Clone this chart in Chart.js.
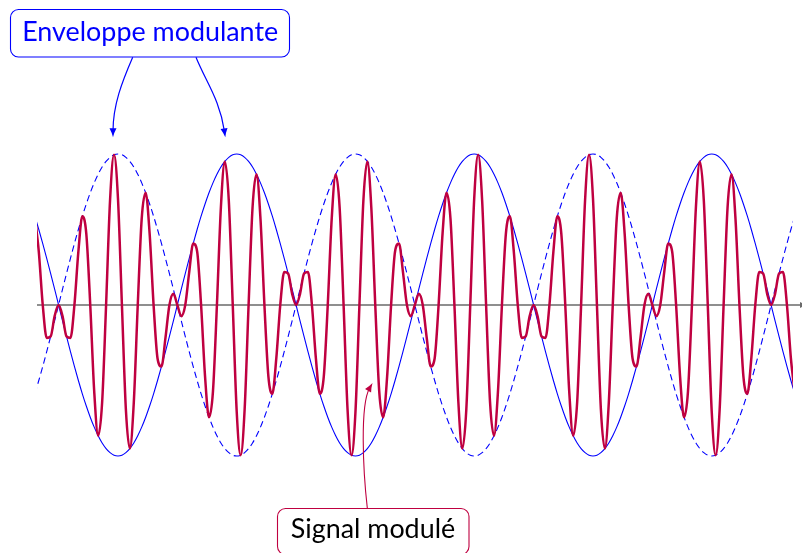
<!DOCTYPE html>
<html>
<head>
<meta charset="utf-8">
<script src="https://cdn.jsdelivr.net/npm/chart.js@4.4.1/dist/chart.umd.min.js"></script>
<style>
html,body{margin:0;padding:0;background:#fff;}
canvas{display:block;}
</style>
</head>
<body>
<canvas id="c" width="802" height="553"></canvas>
<script>
// Samples at a regular step along the time axis
// (index 0 .. 192; the visible domain runs from index 0.5475 to 191.53).
const xRange = [0.5475, 191.53];
const yRange = [-1.2, 1.2];

// Modulated signal (carrier x envelope)
const signalValues = [
 0.588,0.354,0,-0.218,-0.208,-0.074,0,-0.074,-0.208,-0.218,0,0.354,0.588,0.473,0,-0.572,-0.866,-0.646,0,0.692,0.995,0.707,0,-0.692,-0.951,-0.646,0,0.572,0.743,0.473,0,-0.354,-0.407,-0.218,0,0.074,0,-0.074,0,0.218,0.407,0.354,0,-0.473,-0.743,-0.572,0,0.646,0.951,0.692,0,-0.707,-0.995,-0.692,0,0.646,0.866,0.572,0,-0.473,
 -0.588,-0.354,0,0.218,0.208,0.074,0,0.074,0.208,0.218,0,-0.354,-0.588,-0.473,0,0.572,0.866,0.646,0,-0.692,-0.995,-0.707,0,0.692,0.951,0.646,0,-0.572,-0.743,-0.473,0,0.354,0.407,0.218,0,-0.074,0,0.074,0,-0.218,-0.407,-0.354,0,0.473,0.743,0.572,0,-0.646,-0.951,-0.692,0,0.707,0.995,0.692,0,-0.646,-0.866,-0.572,0,0.473,
 0.588,0.354,0,-0.218,-0.208,-0.074,0,-0.074,-0.208,-0.218,0,0.354,0.588,0.473,0,-0.572,-0.866,-0.646,0,0.692,0.995,0.707,0,-0.692,-0.951,-0.646,0,0.572,0.743,0.473,0,-0.354,-0.407,-0.218,0,0.074,0,-0.074,0,0.218,0.407,0.354,0,-0.473,-0.743,-0.572,0,0.646,0.951,0.692,0,-0.707,-0.995,-0.692,0,0.646,0.866,0.572,0,-0.473,
 -0.588,-0.354,0,0.218,0.208,0.074,0,0.074,0.208,0.218,0,-0.354,-0.588
];

// Upper (solid) modulating envelope
const envelopeUpper = [
 0.588,0.5,0.407,0.309,0.208,0.105,0,-0.105,-0.208,-0.309,-0.407,-0.5,-0.588,-0.669,-0.743,-0.809,-0.866,-0.914,-0.951,-0.978,-0.995,-1,-0.995,-0.978,-0.951,-0.914,-0.866,-0.809,-0.743,-0.669,-0.588,-0.5,-0.407,-0.309,-0.208,-0.105,0,0.105,0.208,0.309,0.407,0.5,0.588,0.669,0.743,0.809,0.866,0.914,0.951,0.978,0.995,1,0.995,0.978,0.951,0.914,0.866,0.809,0.743,0.669,
 0.588,0.5,0.407,0.309,0.208,0.105,0,-0.105,-0.208,-0.309,-0.407,-0.5,-0.588,-0.669,-0.743,-0.809,-0.866,-0.914,-0.951,-0.978,-0.995,-1,-0.995,-0.978,-0.951,-0.914,-0.866,-0.809,-0.743,-0.669,-0.588,-0.5,-0.407,-0.309,-0.208,-0.105,0,0.105,0.208,0.309,0.407,0.5,0.588,0.669,0.743,0.809,0.866,0.914,0.951,0.978,0.995,1,0.995,0.978,0.951,0.914,0.866,0.809,0.743,0.669,
 0.588,0.5,0.407,0.309,0.208,0.105,0,-0.105,-0.208,-0.309,-0.407,-0.5,-0.588,-0.669,-0.743,-0.809,-0.866,-0.914,-0.951,-0.978,-0.995,-1,-0.995,-0.978,-0.951,-0.914,-0.866,-0.809,-0.743,-0.669,-0.588,-0.5,-0.407,-0.309,-0.208,-0.105,0,0.105,0.208,0.309,0.407,0.5,0.588,0.669,0.743,0.809,0.866,0.914,0.951,0.978,0.995,1,0.995,0.978,0.951,0.914,0.866,0.809,0.743,0.669,
 0.588,0.5,0.407,0.309,0.208,0.105,0,-0.105,-0.208,-0.309,-0.407,-0.5,-0.588
];

// Lower (dashed) mirrored envelope
const envelopeLower = [
 -0.588,-0.5,-0.407,-0.309,-0.208,-0.105,0,0.105,0.208,0.309,0.407,0.5,0.588,0.669,0.743,0.809,0.866,0.914,0.951,0.978,0.995,1,0.995,0.978,0.951,0.914,0.866,0.809,0.743,0.669,0.588,0.5,0.407,0.309,0.208,0.105,0,-0.105,-0.208,-0.309,-0.407,-0.5,-0.588,-0.669,-0.743,-0.809,-0.866,-0.914,-0.951,-0.978,-0.995,-1,-0.995,-0.978,-0.951,-0.914,-0.866,-0.809,-0.743,-0.669,
 -0.588,-0.5,-0.407,-0.309,-0.208,-0.105,0,0.105,0.208,0.309,0.407,0.5,0.588,0.669,0.743,0.809,0.866,0.914,0.951,0.978,0.995,1,0.995,0.978,0.951,0.914,0.866,0.809,0.743,0.669,0.588,0.5,0.407,0.309,0.208,0.105,0,-0.105,-0.208,-0.309,-0.407,-0.5,-0.588,-0.669,-0.743,-0.809,-0.866,-0.914,-0.951,-0.978,-0.995,-1,-0.995,-0.978,-0.951,-0.914,-0.866,-0.809,-0.743,-0.669,
 -0.588,-0.5,-0.407,-0.309,-0.208,-0.105,0,0.105,0.208,0.309,0.407,0.5,0.588,0.669,0.743,0.809,0.866,0.914,0.951,0.978,0.995,1,0.995,0.978,0.951,0.914,0.866,0.809,0.743,0.669,0.588,0.5,0.407,0.309,0.208,0.105,0,-0.105,-0.208,-0.309,-0.407,-0.5,-0.588,-0.669,-0.743,-0.809,-0.866,-0.914,-0.951,-0.978,-0.995,-1,-0.995,-0.978,-0.951,-0.914,-0.866,-0.809,-0.743,-0.669,
 -0.588,-0.5,-0.407,-0.309,-0.208,-0.105,0,0.105,0.208,0.309,0.407,0.5,0.588
];

const labelEnvelope = 'Enveloppe modulante';
const labelSignal = 'Signal modulé';

const BLUE = '#0000FF';
const PURPLE = '#BF0040';

function toPoints(arr){ return arr.map((v,i)=>({x:i, y:v})); }

function roundRect(ctx, x, y, w, h, r){
  ctx.beginPath();
  ctx.moveTo(x+r, y);
  ctx.lineTo(x+w-r, y);
  ctx.arcTo(x+w, y, x+w, y+r, r);
  ctx.lineTo(x+w, y+h-r);
  ctx.arcTo(x+w, y+h, x+w-r, y+h, r);
  ctx.lineTo(x+r, y+h);
  ctx.arcTo(x, y+h, x, y+h-r, r);
  ctx.lineTo(x, y+r);
  ctx.arcTo(x, y, x+r, y, r);
  ctx.closePath();
}

function arrowHead(ctx, tx, ty, dx, dy, len, wid, color){
  const L = Math.hypot(dx,dy); const ux=dx/L, uy=dy/L; const px=-uy, py=ux;
  const bx = tx-ux*len, by = ty-uy*len;
  ctx.save();
  ctx.fillStyle = color;
  ctx.beginPath();
  ctx.moveTo(tx,ty);
  ctx.quadraticCurveTo(bx+ux*len*0.45+px*wid*0.18, by+uy*len*0.45+py*wid*0.18, bx+px*wid/2, by+py*wid/2);
  ctx.lineTo(bx-px*wid/2, by-py*wid/2);
  ctx.quadraticCurveTo(bx+ux*len*0.45-px*wid*0.18, by+uy*len*0.45-py*wid*0.18, tx, ty);
  ctx.closePath();
  ctx.fill();
  ctx.restore();
}

function curveArrow(ctx, p0, c1, c2, p3, color, lw){
  ctx.save();
  ctx.strokeStyle = color; ctx.lineWidth = lw;
  ctx.beginPath();
  const dx = p3[0]-c2[0], dy = p3[1]-c2[1]; const L=Math.hypot(dx,dy);
  const ex = p3[0]-dx/L*6, ey = p3[1]-dy/L*6;
  ctx.moveTo(p0[0],p0[1]);
  ctx.bezierCurveTo(c1[0],c1[1],c2[0],c2[1],ex,ey);
  ctx.stroke();
  ctx.restore();
  arrowHead(ctx, p3[0], p3[1], dx, dy, 9, 7, color);
}

const decor = {
  id:'decor',
  beforeDatasetsDraw(chart){
    const ctx = chart.ctx, xs = chart.scales.x, ys = chart.scales.y;
    const y0 = ys.getPixelForValue(0);
    ctx.save();
    ctx.strokeStyle = '#6a6a6a'; ctx.lineWidth = 1.4;
    ctx.beginPath(); ctx.moveTo(xs.left, y0); ctx.lineTo(802, y0); ctx.stroke();
    ctx.restore();
    arrowHead(ctx, 807, y0, 1, 0, 7, 6, '#6a6a6a');
  },
  afterDraw(chart){
    const ctx = chart.ctx;
    ctx.save();
    let fs = 26;
    ctx.font = fs + 'px Lato';
    const w = ctx.measureText(labelEnvelope).width;
    fs = fs * 256 / w;
    ctx.font = fs.toFixed(2) + 'px Lato';
    // envelope box
    ctx.fillStyle = '#fff';
    roundRect(ctx, 10.5, 9.5, 279, 47.5, 8);
    ctx.fill();
    ctx.strokeStyle = BLUE; ctx.lineWidth = 1.1; ctx.stroke();
    ctx.fillStyle = BLUE; ctx.textAlign = 'center'; ctx.textBaseline = 'alphabetic';
    ctx.fillText(labelEnvelope, 150.2, 41);
    // signal box
    ctx.fillStyle = '#fff';
    roundRect(ctx, 277.5, 508.5, 191.5, 46, 8);
    ctx.fill();
    ctx.strokeStyle = PURPLE; ctx.lineWidth = 1.1; ctx.stroke();
    ctx.fillStyle = '#000';
    ctx.fillText(labelSignal, 373, 538.3);
    ctx.restore();
    // arrows
    curveArrow(ctx, [132.7,57.3], [122,82], [113,105], [113,137.3], BLUE, 1.2);
    curveArrow(ctx, [196,57.3], [206,82], [220,100], [225.3,137.3], BLUE, 1.2);
    curveArrow(ctx, [367.3,508], [363,470], [360,405], [372.5,383], PURPLE, 1.1);
  }
};

new Chart(document.getElementById('c'), {
  type:'line',
  data:{
    datasets:[
      {data:toPoints(signalValues), borderColor:PURPLE, borderWidth:2.5, pointRadius:0, cubicInterpolationMode:'monotone', fill:false},
      {data:toPoints(envelopeUpper), borderColor:BLUE, borderWidth:1.1, pointRadius:0, cubicInterpolationMode:'monotone', fill:false},
      {data:toPoints(envelopeLower), borderColor:BLUE, borderWidth:1.1, borderDash:[6.5,4], pointRadius:0, cubicInterpolationMode:'monotone', fill:false}
    ]
  },
  options:{
    responsive:false, animation:false, devicePixelRatio:1,
    layout:{padding:{left:37, right:9, top:123.8, bottom:66.8}},
    scales:{
      x:{type:'linear', min:xRange[0], max:xRange[1], display:false},
      y:{type:'linear', min:yRange[0], max:yRange[1], display:false}
    },
    plugins:{legend:{display:false}, tooltip:{enabled:false}}
  },
  plugins:[decor]
});
</script>
</body>
</html>
